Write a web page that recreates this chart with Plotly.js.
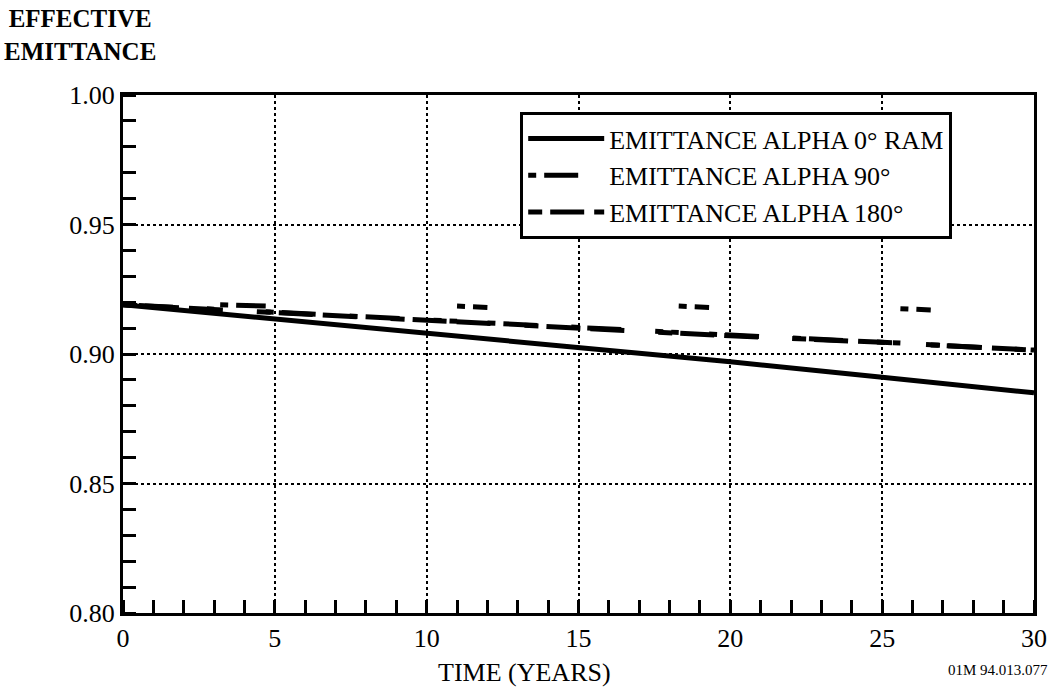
<!DOCTYPE html>
<html>
<head>
<meta charset="utf-8">
<script src="https://cdn.plot.ly/plotly-3.0.1.min.js"></script>
<style>html,body{margin:0;padding:0;background:#fff;}#chart{width:1054px;height:687px;}</style>
</head>
<body>
<div id="chart"></div>
<script>
// Data
const xRam = [0, 5, 10, 15, 20, 25, 30];
const yRam = [0.919, 0.9135, 0.908, 0.9025, 0.897, 0.891, 0.885];

const x90 = [0, 3.0, null, 3.2, 4.7, null, 4.7, 11.0, null, 11.0, 12.0, null, 12.0, 18.3, null, 18.3, 19.3, null, 19.3, 25.6, null, 25.6, 26.6, null, 26.6, 30];
const y90 = [0.919, 0.9173, null, 0.919, 0.9185, null, 0.9163, 0.9126, null, 0.9185, 0.918, null, 0.912, 0.9083, null, 0.9185, 0.918, null, 0.9077, 0.9042, null, 0.9175, 0.917, null, 0.9035, 0.9015];

const x180 = [0, 5, 10, 15, 20, 25, 30];
const y180 = [0.919, 0.916, 0.913, 0.910, 0.907, 0.9045, 0.9015];

const legendNames = ['EMITTANCE ALPHA 0° RAM', 'EMITTANCE ALPHA 90°', 'EMITTANCE ALPHA 180°'];
const xTicks = [0, 5, 10, 15, 20, 25, 30];
const yTicks = [0.80, 0.85, 0.90, 0.95, 1.00];
const xTitle = 'TIME (YEARS)';
const yTitle = 'EFFECTIVE<br>EMITTANCE';
const figureCode = '01M 94.013.077';

const serif = 'Liberation Serif, Times New Roman, serif';

const traces = [
  {x: xRam, y: yRam, name: legendNames[0], mode: 'lines', line: {color: '#000', width: 5}},
  {x: x90, y: y90, name: legendNames[1], mode: 'lines', connectgaps: false, line: {color: '#000', width: 5, dash: '8px,8px,34px,34px'}},
  {x: x180, y: y180, name: legendNames[2], mode: 'lines', line: {color: '#000', width: 5, dash: '14px,8px,34px,10px,34px,34px'}}
];

const layout = {
  width: 1054, height: 687,
  margin: {l: 123, r: 20, t: 95, b: 74},
  paper_bgcolor: '#fff', plot_bgcolor: '#fff',
  font: {family: serif, color: '#000', size: 26},
  showlegend: true,
  legend: {
    x: 0.436, y: 0.967, xanchor: 'left', yanchor: 'top',
    bordercolor: '#000', borderwidth: 3, bgcolor: '#fff',
    font: {family: serif, size: 26, color: '#000'},
    itemwidth: 76,
    tracegroupgap: 0
  },
  xaxis: {
    range: [0, 30], tickvals: xTicks, ticktext: xTicks.map(String),
    ticks: '', showline: true, linecolor: '#000', linewidth: 3, mirror: true,
    showgrid: true, gridcolor: '#000', griddash: 'dot', gridwidth: 2,
    zeroline: false,
    minor: {dtick: 1, ticks: 'inside', ticklen: 13, tickwidth: 3, tickcolor: '#000', showgrid: false},
    tickfont: {family: serif, size: 26}
  },
  yaxis: {
    range: [0.80, 1.00], tickvals: yTicks, ticktext: yTicks.map(v => v.toFixed(2)),
    ticks: '', showline: true, linecolor: '#000', linewidth: 3, mirror: true,
    showgrid: true, gridcolor: '#000', griddash: 'dot', gridwidth: 2,
    zeroline: false,
    minor: {dtick: 0.01, ticks: 'inside', ticklen: 13, tickwidth: 3, tickcolor: '#000', showgrid: false},
    tickfont: {family: serif, size: 26}
  },
  annotations: [
    {text: '<b>' + yTitle + '</b>', xref: 'paper', yref: 'paper', x: -0.047, y: 1.0, xanchor: 'center', yanchor: 'bottom', yshift: 28, showarrow: false, align: 'center', font: {family: serif, size: 25, color: '#000'}},
    {text: xTitle, xref: 'paper', yref: 'paper', x: 0.441, y: 0, xanchor: 'center', yanchor: 'middle', yshift: -59, showarrow: false, font: {family: serif, size: 26, color: '#000'}},
    {text: figureCode, xref: 'paper', yref: 'paper', x: 1.018, y: 0, xanchor: 'right', yanchor: 'middle', yshift: -57, showarrow: false, font: {family: serif, size: 15, color: '#000'}}
  ]
};

Plotly.newPlot('chart', traces, layout, {staticPlot: true});
</script>
</body>
</html>
